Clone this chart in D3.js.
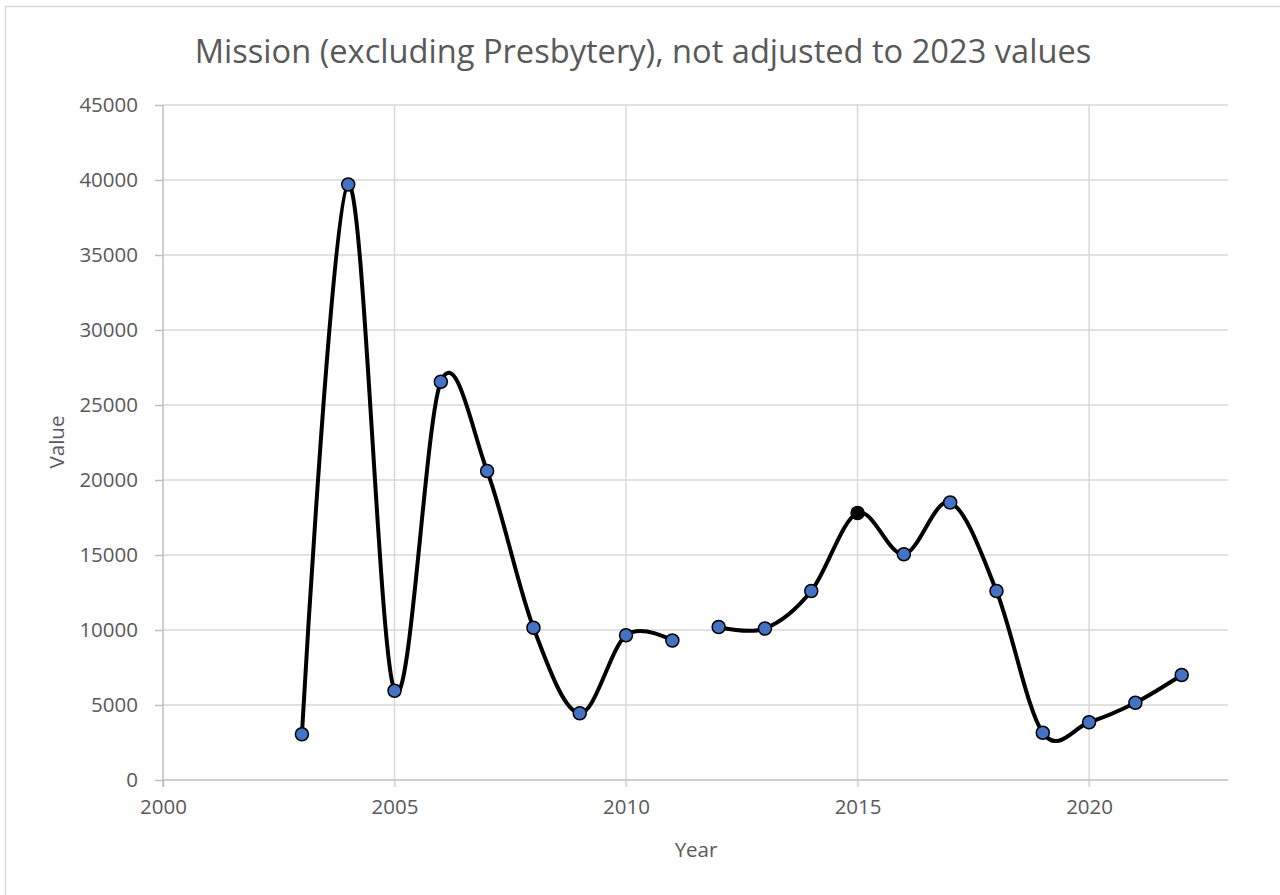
<!DOCTYPE html>
<html>
<head>
<meta charset="utf-8">
<script src="https://cdn.jsdelivr.net/npm/d3@7"></script>
<style>
  html, body { margin: 0; padding: 0; background: #fff; }
  svg { display: block; }
  text { font-family: "Open Sans", "Noto Sans", sans-serif; fill: #595959; }
</style>
</head>
<body>
<svg id="chart" width="1280" height="895"></svg>
<script>
// ---- Data ----
const title = "Mission (excluding Presbytery), not adjusted to 2023 values";
const xTitle = "Year";
const yTitle = "Value";
const years = [2003, 2004, 2005, 2006, 2007, 2008, 2009, 2010, 2011,
               2012, 2013, 2014, 2015, 2016, 2017, 2018, 2019, 2020, 2021, 2022];
const values = [3050, 39700, 5950, 26550, 20600, 10150, 4450, 9650, 9300,
                10200, 10100, 12600, 17800, 15050, 18500, 12600, 3150, 3850, 5150, 7000];
const breakAfter = [2011];          // line is interrupted after these years
const highlightYears = [2015];      // marker drawn in black
const xTicks = [2000, 2005, 2010, 2015, 2020];
const yTicks = [0, 5000, 10000, 15000, 20000, 25000, 30000, 35000, 40000, 45000];

// ---- Layout ----
const svg = d3.select("#chart");
const W = 1280, H = 895;
const plot = { left: 163, right: 1228, top: 105, bottom: 780 };

const x = d3.scaleLinear().domain([2000, 2023]).range([plot.left, plot.right]);
const y = d3.scaleLinear().domain([0, 45000]).range([plot.bottom, plot.top]);

// chart border
svg.append("rect")
  .attr("x", 5.5).attr("y", 6.5)
  .attr("width", W + 10).attr("height", H + 10)
  .attr("fill", "none").attr("stroke", "#d9d9d9").attr("stroke-width", 1.5);

// horizontal gridlines
svg.append("g").selectAll("line").data(yTicks.filter(d => d !== 0)).join("line")
  .attr("x1", plot.left).attr("x2", plot.right)
  .attr("y1", d => y(d)).attr("y2", d => y(d))
  .attr("stroke", "#d9d9d9").attr("stroke-width", 1.5);

// vertical gridlines
svg.append("g").selectAll("line").data(xTicks.filter(d => d !== 2000)).join("line")
  .attr("x1", d => x(d)).attr("x2", d => x(d))
  .attr("y1", plot.top).attr("y2", plot.bottom + 7)
  .attr("stroke", "#d9d9d9").attr("stroke-width", 1.5);

// axes with d3
const yAxis = d3.axisLeft(y).tickValues(yTicks).tickSize(8).tickPadding(17).tickFormat(d3.format("d"));
const gy = svg.append("g").attr("transform", `translate(${plot.left},0)`).call(yAxis);
gy.select(".domain").attr("stroke", "#bfbfbf").attr("stroke-width", 1.5)
  .attr("d", `M0,${plot.top}V${plot.bottom + 7}`);
gy.selectAll(".tick line").attr("stroke", "#bfbfbf").attr("stroke-width", 1.5);
gy.selectAll(".tick text").attr("font-size", 20.5).attr("fill", "#595959")
  .style("font-family", '"Open Sans", sans-serif');

const xAxis = d3.axisBottom(x).tickValues(xTicks).tickSize(7).tickPadding(12).tickFormat(d3.format("d"));
const gx = svg.append("g").attr("transform", `translate(0,${plot.bottom})`).call(xAxis);
gx.select(".domain").attr("stroke", "#bfbfbf").attr("stroke-width", 1.5)
  .attr("d", `M${plot.left},0H${plot.right}`);
gx.selectAll(".tick line").attr("stroke", d => d === 2000 ? "#bfbfbf" : "#d9d9d9").attr("stroke-width", 1.5);
gx.selectAll(".tick text").attr("font-size", 20.5).attr("fill", "#595959")
  .style("font-family", '"Open Sans", sans-serif');

// ---- Series ----
const pts = years.map((yr, i) => ({ yr, v: values[i] }));
const segments = [];
let cur = [];
pts.forEach(p => {
  cur.push(p);
  if (breakAfter.includes(p.yr)) { segments.push(cur); cur = []; }
});
if (cur.length) segments.push(cur);

const line = d3.line().x(d => x(d.yr)).y(d => y(d.v)).curve(d3.curveCardinal.tension(0));
svg.append("g").selectAll("path").data(segments).join("path")
  .attr("d", line)
  .attr("fill", "none").attr("stroke", "#000").attr("stroke-width", 4)
  .attr("stroke-linejoin", "round").attr("stroke-linecap", "round");

svg.append("g").selectAll("circle").data(pts).join("circle")
  .attr("cx", d => x(d.yr)).attr("cy", d => y(d.v)).attr("r", 6.5)
  .attr("fill", d => highlightYears.includes(d.yr) ? "#000" : "#4472c4")
  .attr("stroke", "#000").attr("stroke-width", 1.5);

// ---- Titles ----
const t = svg.append("text").attr("x", 643).attr("y", 63).attr("text-anchor", "middle")
  .attr("font-size", 32).text(title);
// fit title width to reference
const tw = t.node().getComputedTextLength();
t.attr("font-size", 32 * 897 / tw);

svg.append("text").attr("x", 696).attr("y", 857).attr("text-anchor", "middle")
  .attr("font-size", 20.5).text(xTitle);

svg.append("text").attr("transform", "translate(64,442) rotate(-90)")
  .attr("text-anchor", "middle").attr("font-size", 20.5).text(yTitle);
</script>
</body>
</html>
